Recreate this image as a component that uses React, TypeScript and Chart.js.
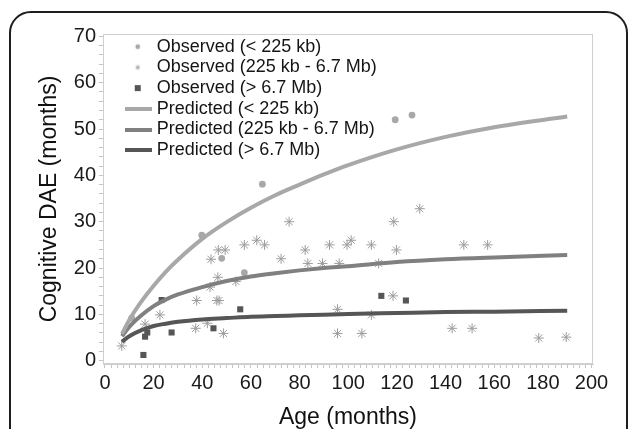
import React, { useEffect, useRef } from "react";
import { Chart, registerables } from "chart.js";

Chart.register(...registerables);

// Observed (< 225 kb)
const circleAge = [11, 39.8, 48, 57.3, 64.7, 119.3, 126.2];
const circleDAE = [9.2, 27.1, 22.1, 19, 38.1, 52, 53];

// Observed (225 kb - 6.7 Mb)
const starAge = [6.9, 16.5, 22.6, 37.7, 37.3, 42.1, 43.2, 43.6, 46, 46.9, 46.4, 46.6, 49.4, 48.7, 53.8, 57.3, 62.4, 65.6, 72.4, 75.7, 82.3, 83.4, 89.4, 92.3, 95.6, 95.6, 96.3, 99.5, 101.2, 105.6, 109.5, 109.5, 112.5, 118.4, 118.7, 119.8, 129.4, 142.7, 147.5, 150.9, 157.3, 178.3, 189.6];
const starDAE = [3.2, 7.9, 9.9, 13, 7, 8.1, 15.9, 21.9, 13, 13, 18, 23.9, 23.9, 5.9, 17.1, 25, 26, 25, 22, 30, 23.9, 21, 21, 25, 11.1, 5.9, 21, 25, 26, 5.9, 25, 9.9, 21, 14, 30, 23.9, 32.8, 7, 25, 7, 25, 4.9, 5.1];

// Observed (> 6.7 Mb)
const squareAge = [15.8, 16.5, 17.4, 23.3, 27.4, 44.6, 55.6, 113.6, 123.7];
const squareDAE = [1.25, 5.2, 6.1, 13.1, 6.1, 7, 11.1, 14, 13];

// Predicted curves
const curveAge = [7, 10, 15, 20, 25, 30, 40, 50, 60, 70, 80, 90, 100, 120, 140, 160, 190];
const predSmall = [5.8, 8.8, 12.8, 16.2, 19.2, 21.8, 26.3, 29.9, 33.0, 35.7, 38.0, 40.2, 42.2, 45.6, 48.3, 50.4, 52.7];
const predMid = [5.3, 7.3, 9.8, 11.8, 13.2, 14.3, 15.9, 17.2, 18.2, 18.9, 19.5, 20.0, 20.4, 21.3, 21.9, 22.3, 22.8];
const predLarge = [4.1, 5.3, 6.6, 7.5, 8.0, 8.4, 8.9, 9.2, 9.5, 9.65, 9.8, 9.95, 10.1, 10.3, 10.5, 10.6, 10.8];

const legendTexts = [
  "Observed (< 225 kb)",
  "Observed (225 kb - 6.7 Mb)",
  "Observed (> 6.7 Mb)",
  "Predicted (< 225 kb)",
  "Predicted (225 kb - 6.7 Mb)",
  "Predicted (> 6.7 Mb)",
];

const xMajor = [0, 20, 40, 60, 80, 100, 120, 140, 160, 180, 200];
const yMajor = [0, 10, 20, 30, 40, 50, 60, 70];

const LIGHT = "#a8a8a8";
const STAR = "#9c9c9c";
const MID = "#808080";
const DARK = "#565656";
const FONT = "'Liberation Sans', Arial, Helvetica, sans-serif";

function pts(xs: number[], ys: number[]) {
  return xs.map((x, i) => ({ x, y: ys[i] }));
}

function makeIcon(kind: string, color: string): HTMLCanvasElement {
  const c = document.createElement("canvas");
  const ctx = c.getContext("2d")!;
  if (kind === "line") {
    c.width = 28;
    c.height = 4;
    ctx.fillStyle = color;
    ctx.fillRect(0, 0, 28, 4);
  } else {
    c.width = 8;
    c.height = 8;
    ctx.fillStyle = color;
    ctx.strokeStyle = color;
    if (kind === "circle") {
      ctx.beginPath();
      ctx.arc(4, 4, 2.4, 0, Math.PI * 2);
      ctx.fill();
    } else if (kind === "square") {
      ctx.fillRect(1, 1, 6, 6);
    } else {
      ctx.lineWidth = 0.9;
      ctx.beginPath();
      ctx.moveTo(4, 1.5); ctx.lineTo(4, 6.5);
      ctx.moveTo(1.8, 2.7); ctx.lineTo(6.2, 5.3);
      ctx.moveTo(1.8, 5.3); ctx.lineTo(6.2, 2.7);
      ctx.stroke();
    }
  }
  return c;
}

const framePlugin = {
  id: "plotFrame",
  beforeDatasetsDraw(chart: any) {
    const { ctx, chartArea } = chart;
    ctx.save();
    ctx.strokeStyle = "#cfcfcf";
    ctx.lineWidth = 1;
    ctx.strokeRect(chartArea.left + 0.5, chartArea.top + 0.5, chartArea.right - chartArea.left - 1, chartArea.bottom - chartArea.top - 1);
    ctx.restore();
  },
};

const legendPlacer = {
  id: "legendPlacer",
  afterLayout(chart: any) {
    const lg = chart.legend;
    if (!lg) return;
    lg.left = 125;
    lg.right = 125 + 420;
    lg.top = 35;
    lg.bottom = 35 + 200;
  },
};

export default function App() {
  const ref = useRef<HTMLCanvasElement | null>(null);

  useEffect(() => {
    if (!ref.current) return;
    const icons = [
      makeIcon("circle", LIGHT),
      makeIcon("star", STAR),
      makeIcon("square", DARK),
      makeIcon("line", LIGHT),
      makeIcon("line", MID),
      makeIcon("line", DARK),
    ];
    const chart = new Chart(ref.current, {
      type: "scatter",
      data: {
        datasets: [
          {
            label: legendTexts[0],
            data: pts(circleAge, circleDAE),
            pointStyle: "circle",
            pointRadius: 3.4,
            backgroundColor: LIGHT,
            borderColor: LIGHT,
            borderWidth: 0,
            order: 2,
          },
          {
            label: legendTexts[1],
            data: pts(starAge, starDAE),
            pointStyle: "star",
            pointRadius: 5,
            backgroundColor: STAR,
            borderColor: STAR,
            borderWidth: 1,
            order: 2,
          },
          {
            label: legendTexts[2],
            data: pts(squareAge, squareDAE),
            pointStyle: "rect",
            pointRadius: 4.3,
            backgroundColor: DARK,
            borderColor: DARK,
            borderWidth: 0,
            order: 2,
          },
          {
            label: legendTexts[3],
            data: pts(curveAge, predSmall),
            showLine: true,
            borderColor: LIGHT,
            borderWidth: 4,
            pointRadius: 0,
            cubicInterpolationMode: "monotone",
            order: 1,
          },
          {
            label: legendTexts[4],
            data: pts(curveAge, predMid),
            showLine: true,
            borderColor: MID,
            borderWidth: 4,
            pointRadius: 0,
            cubicInterpolationMode: "monotone",
            order: 1,
          },
          {
            label: legendTexts[5],
            data: pts(curveAge, predLarge),
            showLine: true,
            borderColor: DARK,
            borderWidth: 4,
            pointRadius: 0,
            cubicInterpolationMode: "monotone",
            order: 1,
          },
        ],
      },
      options: {
        responsive: false,
        animation: false,
        devicePixelRatio: 1,
        layout: { padding: { left: 0, right: 37, top: 34, bottom: 0 } },
        plugins: {
          tooltip: { enabled: false },
          legend: {
            display: true,
            position: "chartArea",
            align: "start",
            labels: {
              usePointStyle: true,
              pointStyleWidth: 20,
              padding: 2.7,
              color: "#151515",
              font: { size: 18, family: FONT },
              generateLabels: () =>
                legendTexts.map((t, i) => ({
                  text: t,
                  pointStyle: icons[i] as any,
                  fillStyle: "rgba(0,0,0,0)",
                  strokeStyle: "rgba(0,0,0,0)",
                  lineWidth: 0,
                  hidden: false,
                  datasetIndex: i,
                  fontColor: "#151515",
                })),
            },
          },
        },
        scales: {
          x: {
            type: "linear",
            min: -0.8,
            max: 200.6,
            afterFit: (s: any) => {
              s.height = 65;
            },
            afterBuildTicks: (s: any) => {
              const arr: any[] = [];
              for (let i = 0; i < xMajor.length; i++) {
                arr.push({ value: xMajor[i] });
                if (i < xMajor.length - 1) {
                  for (let k = 1; k < 8; k++) arr.push({ value: xMajor[i] + (k * (xMajor[i + 1] - xMajor[i])) / 8 });
                }
              }
              s.ticks = arr;
            },
            ticks: {
              autoSkip: false,
              maxRotation: 0,
              padding: 3,
              color: "#1a1a1a",
              font: { size: 20, family: FONT },
              callback: (v: any) => (xMajor.includes(Number(v)) ? String(v) : ""),
            },
            grid: { display: true, drawOnChartArea: false, color: "#c4c4c4", tickLength: 4 },
            border: { display: true, color: "#cfcfcf" },
            title: {
              display: true,
              text: "Age (months)",
              color: "#111",
              font: { size: 23, family: FONT, lineHeight: 1 },
              padding: { top: 0, bottom: 0 },
            },
          },
          y: {
            type: "linear",
            min: -0.7,
            max: 70.5,
            afterFit: (s: any) => {
              s.width = 103;
            },
            afterBuildTicks: (s: any) => {
              const arr: any[] = [];
              for (let i = 0; i < yMajor.length; i++) {
                arr.push({ value: yMajor[i] });
                if (i < yMajor.length - 1) {
                  for (let k = 1; k < 5; k++) arr.push({ value: yMajor[i] + (k * (yMajor[i + 1] - yMajor[i])) / 5 });
                }
              }
              s.ticks = arr;
            },
            ticks: {
              autoSkip: false,
              padding: 3,
              color: "#1a1a1a",
              font: { size: 20, family: FONT },
              callback: (v: any) => (yMajor.includes(Number(v)) ? String(v) : ""),
            },
            grid: { display: true, drawOnChartArea: false, color: "#c4c4c4", tickLength: 4 },
            border: { display: true, color: "#cfcfcf" },
            title: {
              display: true,
              text: "Cognitive DAE (months)",
              color: "#111",
              font: { size: 23, family: FONT, lineHeight: 1 },
              padding: { top: 38.5, bottom: 0 },
            },
          },
        },
      } as any,
      plugins: [framePlugin, legendPlacer],
    });
    return () => chart.destroy();
  }, []);

  return (
    <div style={{ position: "fixed", left: 0, top: 0, width: 630, height: 429, overflow: "hidden", background: "#fff" }}>
      <div
        style={{
          position: "absolute",
          left: 9,
          top: 11,
          width: 615,
          height: 480,
          border: "2px solid #1e1e1e",
          borderRadius: 22,
        }}
      />
      <canvas ref={ref} width={630} height={429} style={{ position: "absolute", left: 0, top: 0, width: 630, height: 429 }} />
    </div>
  );
}
